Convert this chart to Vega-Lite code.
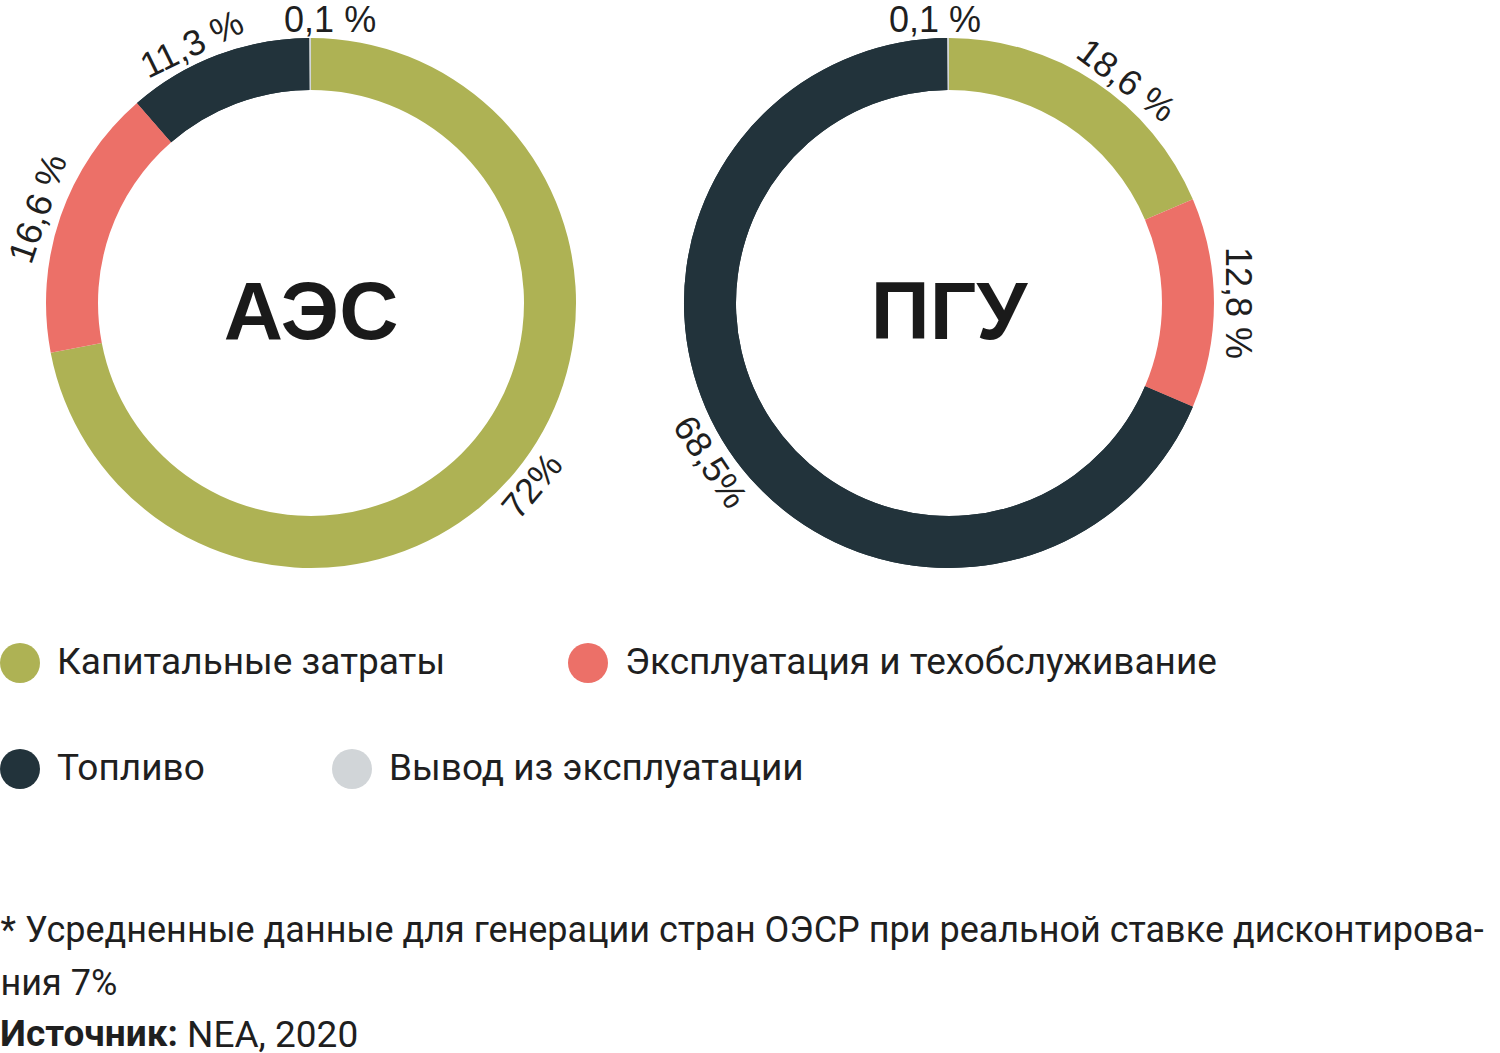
{
  "$schema": "https://vega.github.io/schema/vega-lite/v6.json",
  "width": 1260,
  "height": 606,
  "padding": 0,
  "autosize": {"type": "pad"},
  "background": "white",
  "config": {"view": {"stroke": null}, "font": "Liberation Sans"},
  "layer": [
    {
      "data": {
        "values": [
          {"station": "АЭС", "category": "Капитальные затраты", "value": 72.0, "label": "72%"},
          {"station": "АЭС", "category": "Эксплуатация и техобслуживание", "value": 16.6, "label": "16,6 %"},
          {"station": "АЭС", "category": "Топливо", "value": 11.3, "label": "11,3 %"},
          {"station": "АЭС", "category": "Вывод из эксплуатации", "value": 0.1, "label": "0,1 %"},
          {"station": "ПГУ", "category": "Капитальные затраты", "value": 18.6, "label": "18,6 %"},
          {"station": "ПГУ", "category": "Эксплуатация и техобслуживание", "value": 12.8, "label": "12,8 %"},
          {"station": "ПГУ", "category": "Топливо", "value": 68.5, "label": "68,5%"},
          {"station": "ПГУ", "category": "Вывод из эксплуатации", "value": 0.1, "label": "0,1 %"}
        ]
      },
      "transform": [
        {"window": [{"op": "sum", "field": "value", "as": "end"}], "groupby": ["station"], "frame": [null, 0]},
        {"calculate": "datum.end - datum.value", "as": "start"},
        {"calculate": "(datum.start + datum.end) / 2", "as": "mid"},
        {"calculate": "datum.mid * 3.6 <= 95 ? datum.mid * 3.6 : (datum.mid * 3.6 <= 270 ? datum.mid * 3.6 - 180 : datum.mid * 3.6 - 360)", "as": "ang"}
      ],
      "layer": [
        {
          "transform": [{"filter": "datum.category == 'Топливо' || datum.category == 'Вывод из эксплуатации'"}],
          "mark": {"type": "arc", "innerRadius": 213, "outerRadius": 265},
          "encoding": {
            "x": {"field": "station", "type": "nominal"},
            "theta": {"field": "start", "type": "quantitative", "stack": null},
            "theta2": {"field": "end"},
            "fill": {
              "field": "category", "type": "nominal",
              "scale": {"domain": ["Топливо", "Вывод из эксплуатации"], "range": ["#22333B", "#D1D5D8"]},
              "legend": {
                "orient": "none", "legendX": 0, "legendY": 749, "direction": "horizontal",
                "columnPadding": 127, "symbolType": "circle", "symbolSize": 1600, "symbolStrokeWidth": 0,
                "labelFontSize": 37, "labelFont": "Roboto", "labelColor": "#1f1f1f", "labelOffset": 17,
                "labelLimit": 900, "title": null, "padding": 0
              }
            }
          }
        },
        {
          "mark": {"type": "arc", "innerRadius": 213, "outerRadius": 265},
          "encoding": {
            "x": {
              "field": "station", "type": "nominal",
              "scale": {"type": "point", "domain": ["АЭС", "ПГУ"], "padding": 0.4875},
              "axis": {
                "domain": false, "ticks": false, "labels": false, "grid": false,
                "title": ["* Усредненные данные для генерации стран ОЭСР при реальной ставке дисконтирова-", "ния 7%"],
                "titleX": 0, "titleY": 335, "titleAlign": "left", "titleAnchor": "start", "titleBaseline": "alphabetic",
                "titleFont": "Roboto", "titleFontSize": 36, "titleFontWeight": "normal", "titleColor": "#1f1f1f",
                "titleLineHeight": 53, "titleLimit": 3000
              }
            },
            "theta": {"field": "start", "type": "quantitative", "scale": {"domain": [0, 100], "range": [0, 6.283185307]}, "stack": null},
            "theta2": {"field": "end"},
            "color": {
              "field": "category", "type": "nominal",
              "scale": {
                "domain": ["Капитальные затраты", "Эксплуатация и техобслуживание", "Топливо", "Вывод из эксплуатации"],
                "range": ["#AEB254", "#EC7068", "#22333B", "#D1D5D8"]
              },
              "legend": {
                "values": ["Капитальные затраты", "Эксплуатация и техобслуживание"],
                "orient": "none", "legendX": 0, "legendY": 643, "direction": "horizontal",
                "columnPadding": 122, "symbolType": "circle", "symbolSize": 1600, "symbolStrokeWidth": 0,
                "labelFontSize": 37, "labelFont": "Roboto", "labelColor": "#1f1f1f", "labelOffset": 17,
                "labelLimit": 900, "title": null, "padding": 0
              }
            }
          }
        },
        {
          "transform": [{"filter": "datum.value > 0.1 && datum.label != '11,3 %' && datum.label != '18,6 %'"}],
          "mark": {"type": "text", "radius": 288, "fontSize": 36, "color": "#1f1f1f", "align": "center", "baseline": "middle"},
          "encoding": {
            "x": {"field": "station", "type": "nominal"},
            "theta": {"field": "mid", "type": "quantitative", "stack": null},
            "text": {"field": "label"},
            "angle": {"field": "ang", "type": "quantitative", "scale": null}
          }
        },
        {
          "transform": [{"filter": "datum.label == '11,3 %'"}],
          "mark": {"type": "text", "radius": 285, "fontSize": 36, "color": "#1f1f1f", "align": "center", "baseline": "middle", "angle": -26, "dx": -20},
          "encoding": {
            "x": {"field": "station", "type": "nominal"},
            "theta": {"field": "mid", "type": "quantitative", "stack": null},
            "text": {"field": "label"}
          }
        },
        {
          "transform": [{"filter": "datum.label == '18,6 %'"}],
          "mark": {"type": "text", "radius": 285, "fontSize": 36, "color": "#1f1f1f", "align": "center", "baseline": "middle", "angle": 37, "dx": 25, "dy": 1},
          "encoding": {
            "x": {"field": "station", "type": "nominal"},
            "theta": {"field": "mid", "type": "quantitative", "stack": null},
            "text": {"field": "label"}
          }
        },
        {
          "transform": [{"filter": "datum.value <= 0.1 && datum.station == 'АЭС'"}],
          "mark": {"type": "text", "radius": 282, "fontSize": 36, "color": "#1f1f1f", "align": "center", "baseline": "middle", "dx": 20},
          "encoding": {
            "x": {"field": "station", "type": "nominal"},
            "theta": {"field": "mid", "type": "quantitative", "stack": null},
            "text": {"field": "label"}
          }
        },
        {
          "transform": [{"filter": "datum.value <= 0.1 && datum.station == 'ПГУ'"}],
          "mark": {"type": "text", "radius": 282, "fontSize": 36, "color": "#1f1f1f", "align": "center", "baseline": "middle", "dx": -13},
          "encoding": {
            "x": {"field": "station", "type": "nominal"},
            "theta": {"field": "mid", "type": "quantitative", "stack": null},
            "text": {"field": "label"}
          }
        }
      ]
    },
    {
      "data": {"values": [{"station": "АЭС", "source": "NEA, 2020"}, {"station": "ПГУ", "source": "NEA, 2020"}]},
      "mark": {"type": "text", "fontSize": 82, "fontWeight": "bold", "baseline": "alphabetic", "dy": 36, "color": "#1a1a1a"},
      "encoding": {
        "x": {"field": "station", "type": "nominal"},
        "text": {"field": "station"},
        "opacity": {
          "field": "source", "type": "ordinal", "scale": {"range": [1, 1]},
          "legend": {
            "orient": "none", "legendX": 0, "legendY": 1017, "title": "Источник:", "titleOrient": "left",
            "titleFontWeight": "bold", "titleFontSize": 37, "titleColor": "#1f1f1f", "titleFont": "Roboto",
            "titlePadding": -28, "titleLimit": 600, "labelLimit": 600, "labelFontSize": 37, "labelColor": "#1f1f1f",
            "labelFont": "Roboto",
            "symbolSize": 0, "symbolOpacity": 0, "symbolStrokeWidth": 0, "labelOffset": 0, "padding": 0
          }
        }
      }
    }
  ]
}
